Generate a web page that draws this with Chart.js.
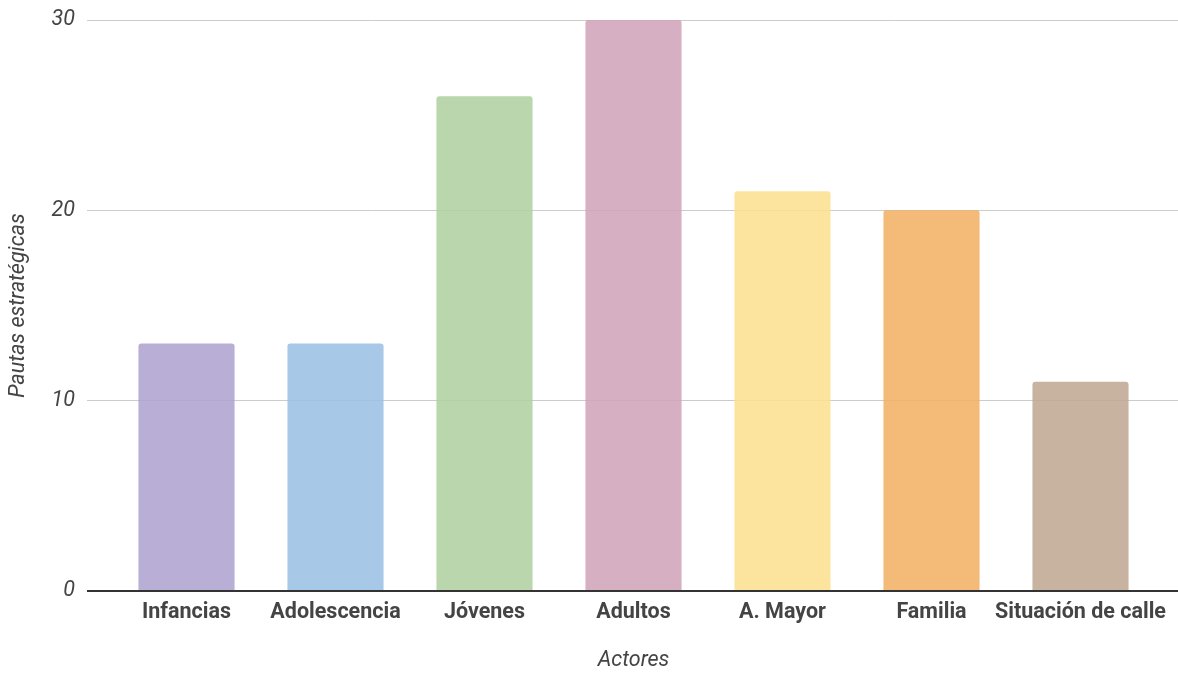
<!DOCTYPE html>
<html>
<head>
<meta charset="utf-8">
<script src="https://cdn.jsdelivr.net/npm/chart.js@4"></script>
<style>
  html, body { margin: 0; padding: 0; background: #fff; }
  #wrap { width: 1178px; height: 675px; }
</style>
</head>
<body>
<div id="wrap"><canvas id="chart"></canvas></div>
<script>
// Pautas estratégicas por actor
const categories = ['Infancias', 'Adolescencia', 'Jóvenes', 'Adultos', 'A. Mayor', 'Familia', 'Situación de calle'];
const values = [13, 13, 26, 30, 21, 20, 11];
const yTicks = [0, 10, 20, 30];

const barColors = [
    'rgba(173,160,207,0.85)',
    'rgba(152,190,226,0.85)',
    'rgba(173,207,157,0.85)',
    'rgba(207,161,183,0.85)',
    'rgba(253,223,141,0.85)',
    'rgba(241,174,96,0.85)',
    'rgba(189,166,143,0.85)'
];

const textColor = '#444';
const gridColor = ctx => (ctx.tick && ctx.tick.value === 0 ? '#333' : '#ccc');
const gridWidth = ctx => (ctx.tick && ctx.tick.value === 0 ? 2 : 1);

Chart.defaults.font.family = 'Roboto, "Noto Sans", sans-serif';

new Chart(document.getElementById('chart'), {
    type: 'bar',
    data: {
        labels: categories,
        datasets: [{
            data: values,
            backgroundColor: barColors,
            borderRadius: 3,
            borderSkipped: 'start',
            barPercentage: 0.645,
            categoryPercentage: 1
        }]
    },
    options: {
        responsive: true,
        maintainAspectRatio: false,
        animation: false,
        layout: { padding: { top: 20, left: 0, right: 0, bottom: 0 } },
        plugins: { legend: { display: false }, tooltip: { enabled: false } },
        scales: {
            x: {
                grid: { display: false, drawTicks: false },
                border: { display: false },
                ticks: { color: textColor, font: { size: 21.5, weight: 'bold' }, padding: 9, maxRotation: 0, autoSkip: false },
                title: { display: true, text: 'Actores', color: textColor, font: { size: 21.5, style: 'italic' }, padding: { top: 4, bottom: 1 } },
                afterFit: s => { s.height = 84; }
            },
            y: {
                min: 0,
                max: 30,
                afterBuildTicks: s => { s.ticks = yTicks.map(v => ({ value: v })); },
                grid: { color: gridColor, tickColor: gridColor, lineWidth: gridWidth, tickLength: 25 },
                border: { display: false },
                ticks: { color: textColor, font: { size: 21.5, style: 'italic' }, padding: 12 },
                title: { display: true, text: 'Pautas estratégicas', color: textColor, font: { size: 21.5, style: 'italic' }, padding: { top: 6, bottom: 4 } },
                afterFit: s => { s.width = 112; s.paddingTop = 0; s.paddingBottom = 0; }
            },
            y2: {
                position: 'right',
                min: 0,
                max: 30,
                afterBuildTicks: s => { s.ticks = yTicks.map(v => ({ value: v })); },
                grid: { drawOnChartArea: false, tickColor: gridColor, lineWidth: gridWidth, tickLength: 23 },
                border: { display: false },
                ticks: { display: false },
                afterFit: s => { s.width = 23; s.paddingTop = 0; s.paddingBottom = 0; }
            }
        }
    }
});
</script>
</body>
</html>
